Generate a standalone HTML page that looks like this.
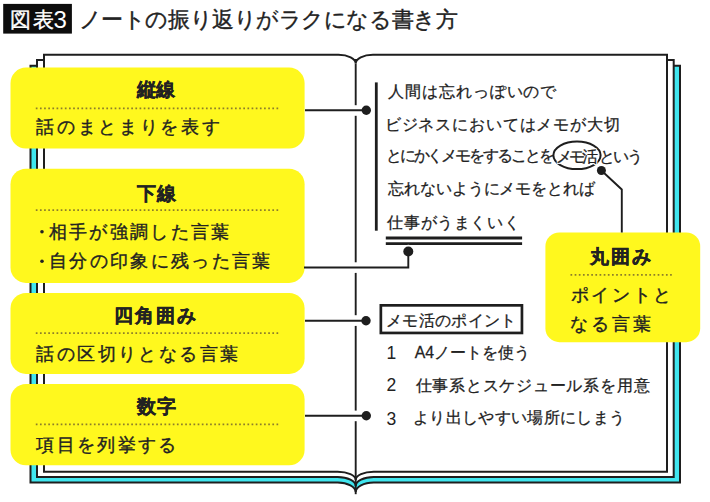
<!DOCTYPE html>
<html><head><meta charset="utf-8"><style>
html,body{margin:0;padding:0;background:#fff;}
body{width:710px;height:502px;position:relative;overflow:hidden;font-family:"Liberation Sans",sans-serif;color:#222222;}
.t{position:absolute;white-space:nowrap;}
</style></head><body>
<svg width="710" height="502" viewBox="0 0 710 502" style="position:absolute;left:0;top:0">
<rect x="3.2" y="3.9" width="68.7" height="29.7" fill="#0d0d0d"/>
<path d="M 30.5 65.8 L 680 65.8 L 680 482.5 L 373.7 482.5 C 363.76 482.5 355.7 486.76 355.7 492 C 355.7 486.76 347.64 482.5 337.7 482.5 L 30.5 482.5 Z" fill="#40e6ef" stroke="#1e1e1e" stroke-width="2.0"/>
<path d="M 37 60 L 673.7 60 L 673.7 477.1 L 373.7 477.1 C 363.76 477.1 355.7 481.09 355.7 486 C 355.7 481.09 347.64 477.1 337.7 477.1 L 37 477.1 Z" fill="#fff" stroke="#1e1e1e" stroke-width="2.0"/>
<path d="M 44 54.7 L 338.5 54.7 C 347.99 54.7 355.7 58.64 355.7 63.5 C 355.7 58.64 363.41 54.7 372.9 54.7 L 667 54.7 L 667 471.7 L 373.7 471.7 C 363.76 471.7 355.7 475.42 355.7 480 C 355.7 475.42 347.64 471.7 337.7 471.7 L 44 471.7 Z" fill="#fff" stroke="#1e1e1e" stroke-width="2.0"/>
<line x1="355.7" y1="63.5" x2="355.7" y2="105.2" stroke="#1e1e1e" stroke-width="1.9"/><line x1="355.7" y1="115.8" x2="355.7" y2="262.3" stroke="#1e1e1e" stroke-width="1.9"/><line x1="355.7" y1="272.9" x2="355.7" y2="315.2" stroke="#1e1e1e" stroke-width="1.9"/><line x1="355.7" y1="325.9" x2="355.7" y2="410.6" stroke="#1e1e1e" stroke-width="1.9"/><line x1="355.7" y1="421.2" x2="355.7" y2="494.2" stroke="#1e1e1e" stroke-width="1.9"/>
<line x1="376.3" y1="82.4" x2="376.3" y2="230.7" stroke="#1e1e1e" stroke-width="2.8"/>
<line x1="385.8" y1="238" x2="522.1" y2="238" stroke="#1e1e1e" stroke-width="2.8"/>
<line x1="385.8" y1="243.7" x2="522.1" y2="243.7" stroke="#1e1e1e" stroke-width="2.8"/>
<ellipse cx="577" cy="155.3" rx="23.6" ry="13.8" fill="none" stroke="#1e1e1e" stroke-width="2"/>
<rect x="380.85" y="305.35" width="141.1" height="27.6" fill="#fff" stroke="#1e1e1e" stroke-width="2.7"/>
<rect x="10.5" y="67.6" width="294.10" height="80.90" rx="15.5" ry="15.5" fill="#fff81e"/>
<rect x="10.5" y="168.8" width="294.10" height="114.10" rx="15.5" ry="15.5" fill="#fff81e"/>
<rect x="10.5" y="292.9" width="294.10" height="81.00" rx="15.5" ry="15.5" fill="#fff81e"/>
<rect x="10.5" y="384" width="294.10" height="81.30" rx="15.5" ry="15.5" fill="#fff81e"/>
<rect x="545.4" y="232.4" width="154.80" height="109.80" rx="14" ry="14" fill="#fff81e"/>
<line x1="35.8" y1="108.4" x2="280.4" y2="108.4" stroke="#8c7d2a" stroke-width="1.7" stroke-dasharray="1.7 2.45"/>
<line x1="35.8" y1="210.2" x2="280.4" y2="210.2" stroke="#8c7d2a" stroke-width="1.7" stroke-dasharray="1.7 2.45"/>
<line x1="35.8" y1="333.1" x2="280.4" y2="333.1" stroke="#8c7d2a" stroke-width="1.7" stroke-dasharray="1.7 2.45"/>
<line x1="35.8" y1="424.4" x2="280.4" y2="424.4" stroke="#8c7d2a" stroke-width="1.7" stroke-dasharray="1.7 2.45"/>
<line x1="570.5" y1="274.9" x2="673.5" y2="274.9" stroke="#8c7d2a" stroke-width="1.7" stroke-dasharray="1.7 2.45"/>
<line x1="305" y1="110.3" x2="366.3" y2="110.3" stroke="#1e1e1e" stroke-width="1.9"/>
<circle cx="366.3" cy="110.3" r="4.7" fill="#1e1e1e"/>
<line x1="305" y1="320.8" x2="366" y2="320.8" stroke="#1e1e1e" stroke-width="1.9"/>
<circle cx="366" cy="320.8" r="4.7" fill="#1e1e1e"/>
<line x1="305" y1="415.7" x2="366.3" y2="415.7" stroke="#1e1e1e" stroke-width="1.9"/>
<circle cx="366.3" cy="415.7" r="4.7" fill="#1e1e1e"/>
<circle cx="408.3" cy="251.5" r="6.8" fill="#fff"/>
<polyline points="304,267.5 408.3,267.5 408.3,251.5" fill="none" stroke="#1e1e1e" stroke-width="1.9"/>
<circle cx="408.3" cy="251.5" r="5" fill="#1e1e1e"/>
<polyline points="601.4,170.5 621.8,189.5 621.8,232.4" fill="none" stroke="#1e1e1e" stroke-width="1.9"/>
<circle cx="601.4" cy="170.5" r="4.5" fill="#1e1e1e"/>
<circle cx="42" cy="231.8" r="1.8" fill="#222222"/>
<circle cx="42" cy="261.3" r="1.8" fill="#222222"/>
</svg>
<div id="hy1" class="t" style="left:9.60px;top:10.00px;font-size:20.5px;line-height:20.5px;letter-spacing:2.400px;color:#fff;-webkit-text-stroke:0.38px currentColor;">図表</div>
<div id="hy3" class="t" style="left:53.40px;top:8.25px;font-size:24.0px;line-height:24.0px;letter-spacing:0.000px;color:#fff;">3</div>
<div id="n1" class="t" style="left:386.60px;top:344.85px;font-size:17.5px;line-height:17.5px;letter-spacing:0.000px;">1</div>
<div id="n2" class="t" style="left:386.50px;top:377.35px;font-size:17.5px;line-height:17.5px;letter-spacing:0.000px;">2</div>
<div id="n3" class="t" style="left:386.50px;top:410.50px;font-size:17.5px;line-height:17.5px;letter-spacing:0.000px;">3</div>
<div id="ttl" class="t" style="left:78.85px;top:9.35px;font-size:22.3px;line-height:22.3px;letter-spacing:-0.452px;-webkit-text-stroke:0.38px currentColor;">ノートの振り返りがラクになる書き方</div>
<div id="b1t" class="t" style="left:137.03px;top:81.05px;font-size:18.6px;line-height:18.6px;letter-spacing:-0.412px;font-weight:bold;-webkit-text-stroke:0.35px currentColor;">縦線</div>
<div id="b2t" class="t" style="left:137.33px;top:185.40px;font-size:18.6px;line-height:18.6px;letter-spacing:0.488px;font-weight:bold;-webkit-text-stroke:0.35px currentColor;">下線</div>
<div id="b3t" class="t" style="left:114.23px;top:307.00px;font-size:18.6px;line-height:18.6px;letter-spacing:1.959px;font-weight:bold;-webkit-text-stroke:0.35px currentColor;">四角囲み</div>
<div id="b4t" class="t" style="left:136.53px;top:397.90px;font-size:18.6px;line-height:18.6px;letter-spacing:0.988px;font-weight:bold;-webkit-text-stroke:0.35px currentColor;">数字</div>
<div id="b5t" class="t" style="left:590.23px;top:247.90px;font-size:18.6px;line-height:18.6px;letter-spacing:1.916px;font-weight:bold;-webkit-text-stroke:0.35px currentColor;">丸囲み</div>
<div id="b1a" class="t" style="left:36.43px;top:118.40px;font-size:18.3px;line-height:18.3px;letter-spacing:2.636px;-webkit-text-stroke:0.38px currentColor;">話のまとまりを表す</div>
<div id="b2a" class="t" style="left:48.63px;top:222.65px;font-size:18.3px;line-height:18.3px;letter-spacing:2.323px;-webkit-text-stroke:0.38px currentColor;">相手が強調した言葉</div>
<div id="b2b" class="t" style="left:49.13px;top:252.15px;font-size:18.3px;line-height:18.3px;letter-spacing:2.305px;-webkit-text-stroke:0.38px currentColor;">自分の印象に残った言葉</div>
<div id="b3a" class="t" style="left:36.43px;top:344.55px;font-size:18.3px;line-height:18.3px;letter-spacing:2.403px;-webkit-text-stroke:0.38px currentColor;">話の区切りとなる言葉</div>
<div id="b4a" class="t" style="left:36.43px;top:435.85px;font-size:18.3px;line-height:18.3px;letter-spacing:2.337px;-webkit-text-stroke:0.38px currentColor;">項目を列挙する</div>
<div id="b5a" class="t" style="left:570.83px;top:285.85px;font-size:18.3px;line-height:18.3px;letter-spacing:2.565px;-webkit-text-stroke:0.38px currentColor;">ポイントと</div>
<div id="b5b" class="t" style="left:569.83px;top:315.15px;font-size:18.3px;line-height:18.3px;letter-spacing:2.909px;-webkit-text-stroke:0.38px currentColor;">なる言葉</div>
<div id="p1" class="t" style="left:387.88px;top:84.30px;font-size:15.8px;line-height:15.8px;letter-spacing:0.947px;-webkit-text-stroke:0.27px currentColor;">人間は忘れっぽいので</div>
<div id="p2" class="t" style="left:384.68px;top:117.10px;font-size:15.8px;line-height:15.8px;letter-spacing:0.866px;-webkit-text-stroke:0.27px currentColor;">ビジネスにおいてはメモが大切</div>
<div id="p3a" class="t" style="left:385.70px;top:147.90px;font-size:15.8px;line-height:15.8px;letter-spacing:-2.067px;-webkit-text-stroke:0.27px currentColor;">とにかくメモをすることを</div>
<div id="p3b" class="t" style="left:555.90px;top:148.90px;font-size:15.8px;line-height:15.8px;letter-spacing:-3.049px;text-shadow:1.2px 0 #fff,-1.2px 0 #fff,0 1.2px #fff,0 -1.2px #fff,1px 1px #fff,-1px -1px #fff,1px -1px #fff,-1px 1px #fff;-webkit-text-stroke:0.27px currentColor;">メモ活</div>
<div id="p3c" class="t" style="left:598.90px;top:148.90px;font-size:15.8px;line-height:15.8px;letter-spacing:-1.949px;-webkit-text-stroke:0.27px currentColor;">という</div>
<div id="p4" class="t" style="left:387.98px;top:181.40px;font-size:15.8px;line-height:15.8px;letter-spacing:-0.074px;-webkit-text-stroke:0.27px currentColor;">忘れないようにメモをとれば</div>
<div id="p5" class="t" style="left:387.48px;top:214.50px;font-size:15.8px;line-height:15.8px;letter-spacing:0.594px;-webkit-text-stroke:0.27px currentColor;">仕事がうまくいく</div>
<div id="mp" class="t" style="left:386.09px;top:312.90px;font-size:15.6px;line-height:15.6px;letter-spacing:0.327px;-webkit-text-stroke:0.27px currentColor;">メモ活のポイント</div>
<div id="l1" class="t" style="left:414.68px;top:345.10px;font-size:15.8px;line-height:15.8px;letter-spacing:-0.063px;-webkit-text-stroke:0.27px currentColor;">A4ノートを使う</div>
<div id="l2" class="t" style="left:415.68px;top:377.80px;font-size:15.8px;line-height:15.8px;letter-spacing:0.758px;-webkit-text-stroke:0.27px currentColor;">仕事系とスケジュール系を用意</div>
<div id="l3" class="t" style="left:413.18px;top:410.40px;font-size:15.8px;line-height:15.8px;letter-spacing:0.327px;-webkit-text-stroke:0.27px currentColor;">より出しやすい場所にしまう</div>
</body></html>
